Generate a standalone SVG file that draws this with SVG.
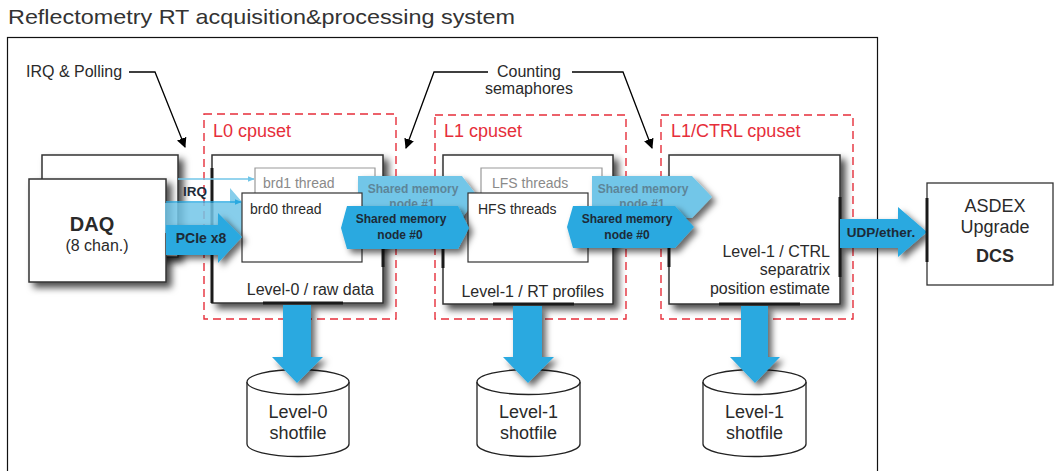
<svg xmlns="http://www.w3.org/2000/svg" width="1055" height="471" viewBox="0 0 1055 471">
<defs>
<filter id="sh" x="-20%" y="-20%" width="150%" height="150%">
<feDropShadow dx="5" dy="5" stdDeviation="3.5" flood-color="#000" flood-opacity="0.7"/>
</filter>
<filter id="sha" x="-20%" y="-20%" width="150%" height="160%">
<feDropShadow dx="4" dy="4" stdDeviation="3" flood-color="#000" flood-opacity="0.6"/>
</filter>
<marker id="ah" viewBox="0 0 10 10" refX="9" refY="5" markerWidth="10" markerHeight="10" markerUnits="userSpaceOnUse" orient="auto">
<path d="M0,0 L10,5 L0,10 Z" fill="#000"/>
</marker>
<marker id="ahb" viewBox="0 0 10 10" refX="9" refY="5" markerWidth="7" markerHeight="7" markerUnits="userSpaceOnUse" orient="auto">
<path d="M0,1 L10,5 L0,9 Z" fill="#29A9E0"/>
</marker>
<marker id="ahl" viewBox="0 0 10 10" refX="9" refY="5" markerWidth="7" markerHeight="7" markerUnits="userSpaceOnUse" orient="auto">
<path d="M0,1 L10,5 L0,9 Z" fill="#72C6E8"/>
</marker>
</defs>
<style>
text{font-family:"Liberation Sans",Arial,sans-serif;fill:#2a2a2a}
.t14{font-size:14px}
.t15{font-size:16px}
.t16{font-size:16px}
.t17{font-size:18px}
.t18{font-size:18px}
.red{fill:#E62E3A;font-size:18px}
.gray{fill:#8a8a8a}
.b{font-weight:bold}
.sm{font-size:12px;font-weight:bold;fill:#1d2b38}
.sml{font-size:12px;font-weight:bold;fill:#5d8598}
.blk{fill:#fff;stroke:#333;stroke-width:1.5}
.thr{fill:#fff;stroke:#333;stroke-width:1.2}
.thrg{fill:#fff;stroke:#999;stroke-width:1.2}
.dash{fill:none;stroke:#E62E3A;stroke-width:1.4;stroke-dasharray:8 5}
.dark{fill:#29A9E0}
.light{fill:#72C6E8}
.thick{stroke:#1a1a1a;stroke-width:3;fill:none}
.ann{fill:none;stroke:#000;stroke-width:1.3}
.cyl{fill:#fff;stroke:#222;stroke-width:1.3}
</style>

<text x="8" y="24" style="font-size:21px;fill:#333" textLength="507" lengthAdjust="spacingAndGlyphs">Reflectometry RT acquisition&amp;processing system</text>
<rect x="7.5" y="37.5" width="870" height="440" fill="none" stroke="#111" stroke-width="1.2"/>

<g id="annotations">
<text x="26" y="77" class="t16">IRQ &amp; Polling</text>
<polyline class="ann" points="129,72 155,72 185,147" marker-end="url(#ah)"/>
<text x="529" y="77" class="t16" text-anchor="middle">Counting</text>
<text x="529" y="94" class="t16" text-anchor="middle">semaphores</text>
<polyline class="ann" points="488,72 434,72 406,148" marker-end="url(#ah)"/>
<polyline class="ann" points="572,72 623,72 652,148" marker-end="url(#ah)"/>
</g>

<g id="cpusets">
<rect class="dash" x="204" y="114" width="192" height="205"/>
<text x="213" y="137" class="red">L0 cpuset</text>
<rect class="dash" x="435" y="115" width="191" height="204"/>
<text x="444" y="137" class="red">L1 cpuset</text>
<rect class="dash" x="661" y="115" width="192" height="204"/>
<text x="671" y="137" class="red">L1/CTRL cpuset</text>
</g>

<g id="daq">
<rect class="blk" x="42" y="155" width="136" height="102" filter="url(#sh)"/>
<rect class="blk" x="29" y="179" width="137" height="103" filter="url(#sh)"/>
<text x="92" y="231" style="font-size:20px;font-weight:bold" text-anchor="middle">DAQ</text>
<text x="97" y="251" class="t16" text-anchor="middle">(8 chan.)</text>
</g>

<g id="l0">
<rect class="blk" x="212" y="155" width="171" height="148" filter="url(#sh)"/>
</g>
<g id="l1">
<rect class="blk" x="443" y="155" width="170" height="149" filter="url(#sh)"/>
</g>
<g id="l1ctrl">
<rect class="blk" x="669" y="155" width="171" height="149" filter="url(#sh)"/>
<text x="830" y="257" class="t15" text-anchor="end">Level-1 / CTRL</text>
<text x="830" y="275" class="t15" text-anchor="end">separatrix</text>
<text x="830" y="294" class="t15" text-anchor="end">position estimate</text>
</g>

<g id="edges">
<line class="thick" x1="212" y1="168" x2="212" y2="303"/>
<line class="thick" x1="263" y1="303" x2="343" y2="303"/>
<line class="thick" x1="383" y1="247" x2="383" y2="267"/>
<line class="thick" x1="443" y1="246" x2="443" y2="268"/>
<line class="thick" x1="493" y1="304" x2="574" y2="304"/>
<line class="thick" x1="669" y1="247" x2="669" y2="267"/>
<line class="thick" x1="840" y1="197" x2="840" y2="277"/>
<line class="thick" x1="719" y1="304" x2="800" y2="304"/>
</g>

<g id="brd1">
<path class="thrg" d="M255,200 V168 H375 V200"/>
<text x="263" y="188" class="t14 gray">brd1 thread</text>
</g>
<g id="lfs">
<path class="thrg" d="M481,200 V168 H602 V200"/>
<text x="492" y="188" class="t14 gray">LFS threads</text>
</g>

<g id="connectors">
<polygon class="light" points="358,176 462,176 478,197 462,218 358,218" filter="url(#sha)"/>
<text x="413" y="193" class="sml" text-anchor="middle">Shared memory</text>
<text x="412" y="208" class="sml" text-anchor="middle">node #1</text>
<polygon class="light" points="592,176 692,176 712,197 692,218 592,218" filter="url(#sha)"/>
<text x="643" y="193" class="sml" text-anchor="middle">Shared memory</text>
<text x="642" y="208" class="sml" text-anchor="middle">node #1</text>
<polygon class="light" points="165,203 230,203 230,188 256,218 230,248 230,233 165,233" opacity="0.85"/>
</g>

<g id="brd0">
<rect class="thr" x="242" y="193" width="120" height="69"/>
<text x="250" y="214" class="t14">brd0 thread</text>
<text x="374" y="295" class="t15" text-anchor="end">Level-0 / raw data</text>
</g>
<g id="hfs">
<rect class="thr" x="468" y="193" width="120" height="69"/>
<text x="478" y="214" class="t14">HFS threads</text>
<text x="604" y="297" class="t15" text-anchor="end">Level-1 / RT profiles</text>
</g>

<g id="connectors2">
<polygon class="dark" points="347,206 458,206 469,228 458,249 347,249 341,228" filter="url(#sha)"/>
<text x="401" y="223" class="sm" text-anchor="middle">Shared memory</text>
<text x="400" y="239" class="sm" text-anchor="middle">node #0</text>
<polygon class="dark" points="573,206 675,206 694,227 675,248 573,248 567,227" filter="url(#sha)"/>
<text x="627" y="223" class="sm" text-anchor="middle">Shared memory</text>
<text x="627" y="239" class="sm" text-anchor="middle">node #0</text>
<line x1="178" y1="179" x2="254" y2="179" stroke="#72C6E8" stroke-width="1.3" marker-end="url(#ahl)"/>
<line x1="166" y1="202" x2="241" y2="202" stroke="#29A9E0" stroke-width="1.6" marker-end="url(#ahb)"/>
<text x="183" y="196" class="sm" style="font-size:13.5px">IRQ</text>
<polygon class="dark" points="166,225 218,225 218,213 242,237 218,263 218,255 166,255" filter="url(#sha)"/>
<text x="201" y="243" class="sm" style="font-size:14px" text-anchor="middle">PCIe x8</text>
<polygon class="dark" points="840,219 898,219 898,207 927,232 898,257 898,248 840,248" filter="url(#sha)"/>
<text x="881" y="237" class="sm" style="font-size:13.5px" text-anchor="middle">UDP/ether.</text>
</g>

<g id="asdex">
<rect x="927" y="183" width="126" height="102" fill="#fff" stroke="#333" stroke-width="1.3"/>
<line class="thick" x1="927" y1="198" x2="927" y2="262"/>
<text x="995" y="212" class="t18" text-anchor="middle">ASDEX</text>
<text x="995" y="233" class="t18" text-anchor="middle">Upgrade</text>
<text x="995" y="262" class="t18 b" text-anchor="middle">DCS</text>
</g>

<g id="shot0">
<path class="cyl" d="M247,382 V444 A51,12.5 0 0 0 349,444 V382"/>
<ellipse class="cyl" cx="298" cy="382" rx="51" ry="12.5"/>
<text x="298" y="418" class="t17" text-anchor="middle">Level-0</text>
<text x="298" y="439" class="t17" text-anchor="middle">shotfile</text>
</g>
<g id="shot1">
<path class="cyl" d="M477,382 V444 A51.5,12.5 0 0 0 580,444 V382"/>
<ellipse class="cyl" cx="528.5" cy="382" rx="51.5" ry="12.5"/>
<text x="528.5" y="418" class="t17" text-anchor="middle">Level-1</text>
<text x="528.5" y="439" class="t17" text-anchor="middle">shotfile</text>
</g>
<g id="shot2">
<path class="cyl" d="M703,382 V444 A51.5,12.5 0 0 0 806,444 V382"/>
<ellipse class="cyl" cx="754.5" cy="382" rx="51.5" ry="12.5"/>
<text x="754.5" y="418" class="t17" text-anchor="middle">Level-1</text>
<text x="754.5" y="439" class="t17" text-anchor="middle">shotfile</text>
</g>

<g id="down-arrows">
<polygon class="dark" points="283,305 311,305 311,357 323,357 297,383 272,357 283,357" filter="url(#sha)"/>
<polygon class="dark" points="513,306 542,306 542,357 554,357 528,383 503,357 513,357" filter="url(#sha)"/>
<polygon class="dark" points="741,306 768,306 768,357 780,357 755,383 730,357 741,357" filter="url(#sha)"/>
</g>
</svg>
